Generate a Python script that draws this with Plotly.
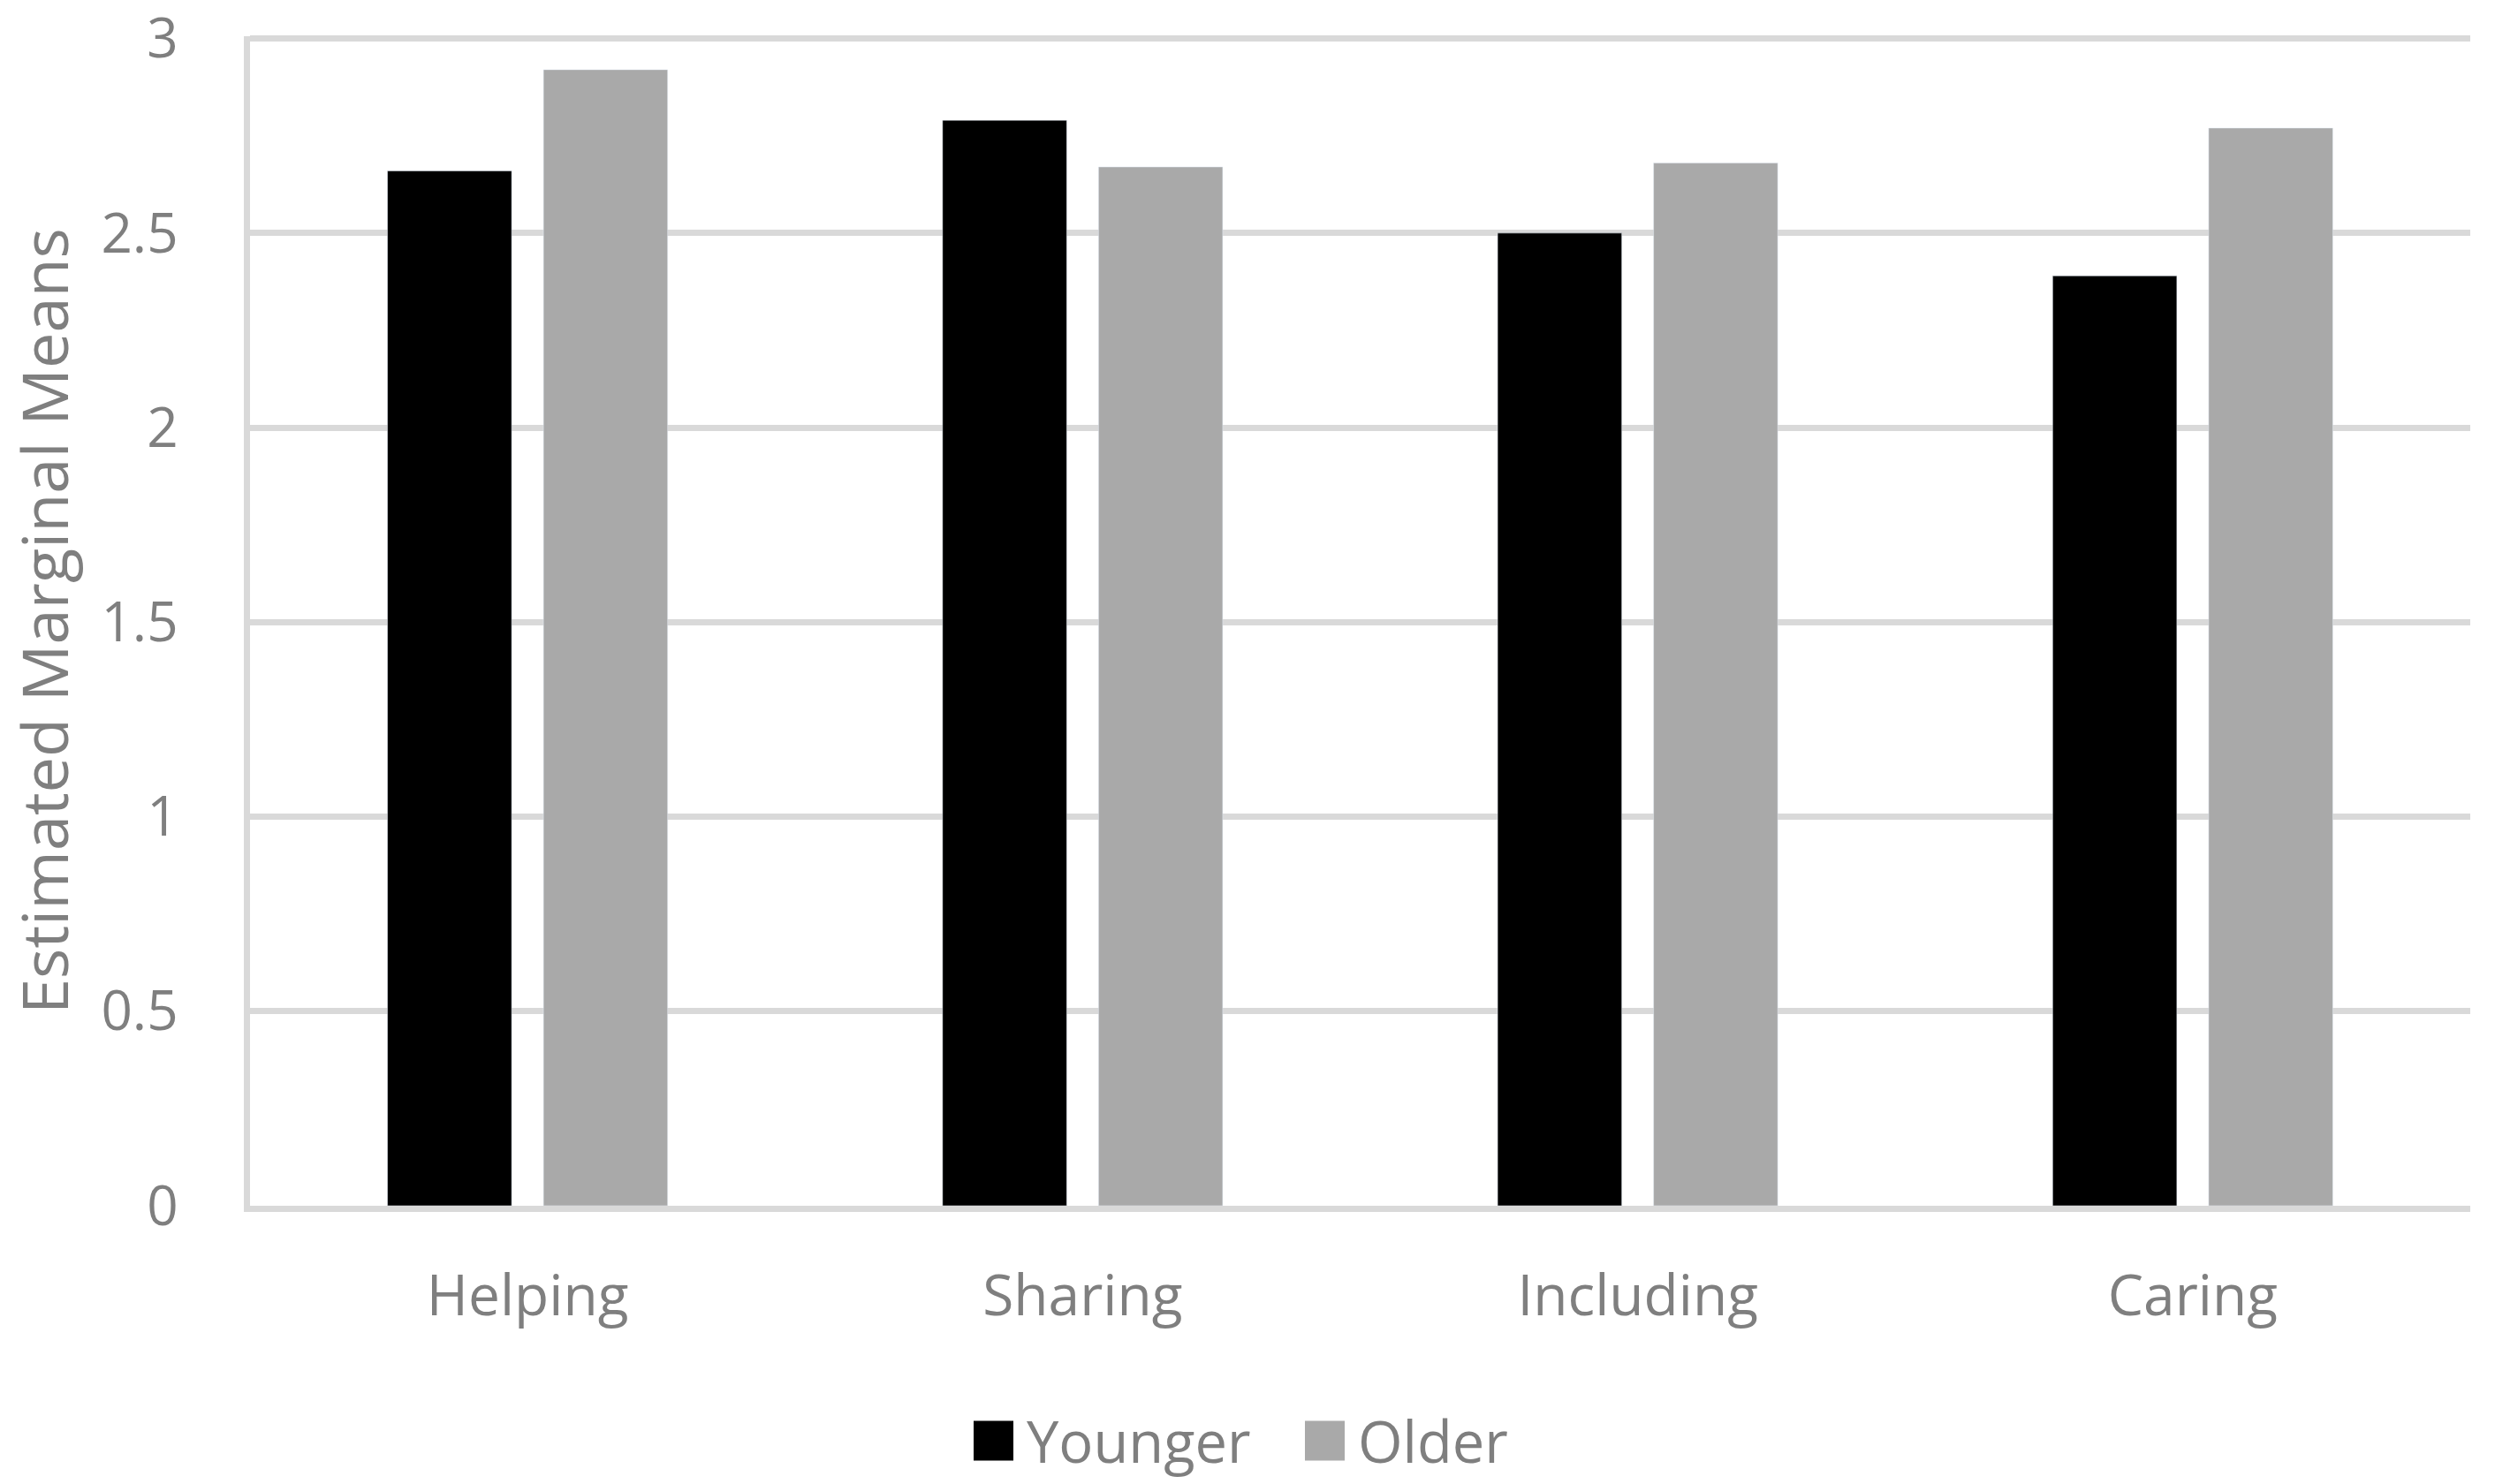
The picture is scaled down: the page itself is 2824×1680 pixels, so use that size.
import plotly.graph_objects as go

categories = ["Helping", "Sharing", "Including", "Caring"]
series_names = ["Younger", "Older"]
younger = [2.66, 2.79, 2.50, 2.39]
older = [2.92, 2.67, 2.68, 2.77]
y_ticks = [0, 0.5, 1, 1.5, 2, 2.5, 3]
y_tick_labels = ["0", "0.5", "1", "1.5", "2", "2.5", "3"]

FONT = "Open Sans"
TXT = "#7f7f7f"
GRID = "#d9d9d9"
COLORS = ["#000000", "#a9a9a9"]

W, H = 2824, 1680
ML, MR, MT, MB = 283, 28, 41, 315
Y_MAX = 3.006

fig = go.Figure()
for name, vals, col in zip(series_names, [younger, older], COLORS):
    fig.add_trace(go.Bar(name=name, x=categories, y=vals, marker_color=col, showlegend=False))

# custom legend (large square swatches like the original)
pw = W - ML - MR
ph = H - MT - MB
def px_to_paper_x(px):
    return (px - ML) / pw
def px_to_paper_y(py):
    return (H - MB - py) / ph

legend_items = [(series_names[0], COLORS[0], 1102, 1160), (series_names[1], COLORS[1], 1477, 1535)]
sq = 45
ly = 1631
for name, col, sx, tx in legend_items:
    fig.add_shape(type="rect", xref="paper", yref="paper",
                  x0=px_to_paper_x(sx), x1=px_to_paper_x(sx + sq),
                  y0=px_to_paper_y(ly + sq / 2), y1=px_to_paper_y(ly - sq / 2),
                  fillcolor=col, line=dict(width=0))
    fig.add_annotation(text=name, xref="paper", yref="paper",
                       x=px_to_paper_x(tx), y=px_to_paper_y(ly),
                       xanchor="left", yanchor="middle", showarrow=False,
                       font=dict(size=65, color=TXT, family=FONT))

fig.update_layout(
    width=W, height=H, autosize=False,
    margin=dict(l=ML, r=MR, t=MT, b=MB, autoexpand=False),
    paper_bgcolor="white", plot_bgcolor="white",
    barmode="group", bargap=0.438, bargroupgap=0.204,
    font=dict(family=FONT, color=TXT, size=64),
    showlegend=False,
)
fig.update_xaxes(showline=True, linecolor=GRID, linewidth=7, showgrid=False, automargin=False,
                 tickfont=dict(size=64, color=TXT), ticks="", ticklabelstandoff=40)
fig.update_yaxes(range=[0, Y_MAX], tickvals=y_ticks, ticktext=y_tick_labels,
                 showline=True, linecolor=GRID, linewidth=7, automargin=False,
                 showgrid=True, gridcolor=GRID, gridwidth=7, zeroline=False,
                 tickfont=dict(size=62, color=TXT), ticks="", ticklabelstandoff=62,
                 ticklabeloverflow="allow",
                 title=dict(text="Estimated Marginal Means", font=dict(size=72, color=TXT), standoff=46))

fig.write_html("out.html", config={"displayModeBar": False},
               post_script="document.body.style.margin='0px';")
